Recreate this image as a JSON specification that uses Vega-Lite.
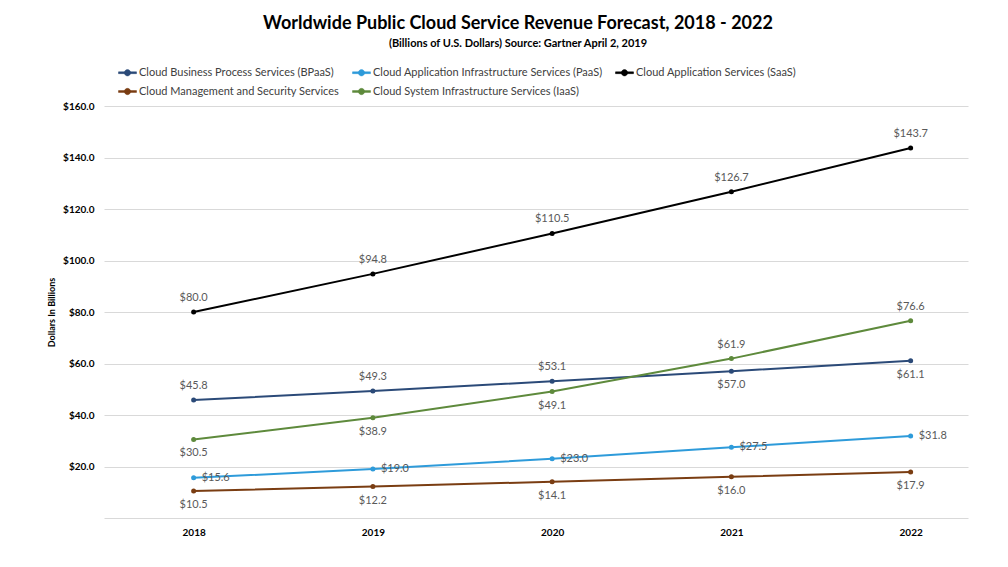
{
  "$schema": "https://vega.github.io/schema/vega-lite/v6.json",
  "width": 864,
  "height": 412,
  "autosize": {"type": "none"},
  "padding": {"left": 104, "top": 106, "right": 40, "bottom": 49},
  "background": "white",
  "title": {
    "text": "Worldwide Public Cloud Service Revenue Forecast, 2018 - 2022",
    "subtitle": "(Billions of U.S. Dollars) Source: Gartner April 2, 2019",
    "anchor": "middle",
    "font": "Lato",
    "fontSize": 18,
    "fontWeight": "bold",
    "color": "#000000",
    "subtitleFont": "Lato",
    "subtitleFontSize": 11,
    "subtitleFontWeight": "bold",
    "subtitleColor": "#000000",
    "subtitlePadding": 5,
    "dx": -18,
    "offset": 14
  },
  "config": {
    "view": {"stroke": null},
    "font": "Lato",
    "legend": {
      "orient": "none",
      "legendX": 14,
      "legendY": -43,
      "columns": 3,
      "direction": "horizontal",
      "gridAlign": "each",
      "columnPadding": 11,
      "rowPadding": 4,
      "title": null,
      "labelFont": "Lato",
      "labelFontSize": 11,
      "labelColor": "#404040",
      "labelOffset": 2,
      "labelLimit": 400,
      "symbolType": "M-1,-0.1L1,-0.1L1,0.1L-1,0.1Z M0.35,0A0.35,0.35,0,1,1,-0.35,0A0.35,0.35,0,1,1,0.35,0Z",
      "symbolSize": 324,
      "symbolStrokeWidth": 0.5
    }
  },
  "data": {
    "values": [
      {"series": "Cloud Business Process Services (BPaaS)", "year": 2018, "value": 45.8},
      {"series": "Cloud Business Process Services (BPaaS)", "year": 2019, "value": 49.3},
      {"series": "Cloud Business Process Services (BPaaS)", "year": 2020, "value": 53.1},
      {"series": "Cloud Business Process Services (BPaaS)", "year": 2021, "value": 57.0},
      {"series": "Cloud Business Process Services (BPaaS)", "year": 2022, "value": 61.1},
      {"series": "Cloud Application Infrastructure Services (PaaS)", "year": 2018, "value": 15.6},
      {"series": "Cloud Application Infrastructure Services (PaaS)", "year": 2019, "value": 19.0},
      {"series": "Cloud Application Infrastructure Services (PaaS)", "year": 2020, "value": 23.0},
      {"series": "Cloud Application Infrastructure Services (PaaS)", "year": 2021, "value": 27.5},
      {"series": "Cloud Application Infrastructure Services (PaaS)", "year": 2022, "value": 31.8},
      {"series": "Cloud Application Services (SaaS)", "year": 2018, "value": 80.0},
      {"series": "Cloud Application Services (SaaS)", "year": 2019, "value": 94.8},
      {"series": "Cloud Application Services (SaaS)", "year": 2020, "value": 110.5},
      {"series": "Cloud Application Services (SaaS)", "year": 2021, "value": 126.7},
      {"series": "Cloud Application Services (SaaS)", "year": 2022, "value": 143.7},
      {"series": "Cloud Management and Security Services", "year": 2018, "value": 10.5},
      {"series": "Cloud Management and Security Services", "year": 2019, "value": 12.2},
      {"series": "Cloud Management and Security Services", "year": 2020, "value": 14.1},
      {"series": "Cloud Management and Security Services", "year": 2021, "value": 16.0},
      {"series": "Cloud Management and Security Services", "year": 2022, "value": 17.9},
      {"series": "Cloud System Infrastructure Services (IaaS)", "year": 2018, "value": 30.5},
      {"series": "Cloud System Infrastructure Services (IaaS)", "year": 2019, "value": 38.9},
      {"series": "Cloud System Infrastructure Services (IaaS)", "year": 2020, "value": 49.1},
      {"series": "Cloud System Infrastructure Services (IaaS)", "year": 2021, "value": 61.9},
      {"series": "Cloud System Infrastructure Services (IaaS)", "year": 2022, "value": 76.6}
    ]
  },
  "encoding": {
    "x": {
      "field": "year",
      "type": "quantitative",
      "scale": {"domain": [2017.5, 2022.32], "nice": false, "zero": false},
      "axis": {
        "title": null,
        "values": [2018, 2019, 2020, 2021, 2022],
        "format": "d",
        "grid": false,
        "domain": false,
        "ticks": false,
        "labelFont": "Lato",
        "labelFontSize": 10,
        "labelFontWeight": "bold",
        "labelColor": "#000000",
        "labelPadding": 9
      }
    },
    "y": {
      "field": "value",
      "type": "quantitative",
      "scale": {"domain": [0, 160], "nice": false},
      "axis": {
        "title": "Dollars In Billions",
        "titleFont": "Lato",
        "titleFontSize": 9,
        "titleFontWeight": "bold",
        "titleColor": "#000000",
        "titlePadding": 6,
        "values": [0, 20, 40, 60, 80, 100, 120, 140, 160],
        "labelExpr": "datum.value == 0 ? '' : format(datum.value, '$.1f')",
        "domain": false,
        "ticks": false,
        "grid": true,
        "gridColor": "#D9D9D9",
        "gridWidth": 1,
        "labelFont": "Lato",
        "labelFontSize": 10,
        "labelFontWeight": "bold",
        "labelColor": "#000000",
        "labelPadding": 10
      }
    }
  },
  "layer": [
    {
      "mark": {"type": "line", "strokeWidth": 2},
      "encoding": {
        "color": {
          "field": "series",
          "type": "nominal",
          "sort": null,
          "scale": {
            "domain": [
              "Cloud Business Process Services (BPaaS)",
              "Cloud Application Infrastructure Services (PaaS)",
              "Cloud Application Services (SaaS)",
              "Cloud Management and Security Services",
              "Cloud System Infrastructure Services (IaaS)"
            ],
            "range": ["#2B4A78", "#2E9BDA", "#000000", "#7A3D12", "#5E8A3C"]
          }
        }
      }
    },
    {
      "mark": {"type": "point", "filled": true, "size": 25, "opacity": 1},
      "encoding": {
        "color": {"field": "series", "type": "nominal", "sort": null}
      }
    },
    {
      "transform": [
        {"filter": "datum.series == 'Cloud Application Services (SaaS)' || (datum.series == 'Cloud Business Process Services (BPaaS)' && datum.year <= 2020) || (datum.series == 'Cloud System Infrastructure Services (IaaS)' && datum.year >= 2021)"}
      ],
      "mark": {"type": "text", "dy": -14, "font": "Lato", "fontSize": 11, "color": "#595959"},
      "encoding": {"text": {"field": "value", "type": "quantitative", "format": "$.1f"}}
    },
    {
      "transform": [
        {"filter": "datum.series == 'Cloud Management and Security Services' || (datum.series == 'Cloud Business Process Services (BPaaS)' && datum.year >= 2021) || (datum.series == 'Cloud System Infrastructure Services (IaaS)' && datum.year <= 2020)"}
      ],
      "mark": {"type": "text", "dy": 14, "font": "Lato", "fontSize": 11, "color": "#595959"},
      "encoding": {"text": {"field": "value", "type": "quantitative", "format": "$.1f"}}
    },
    {
      "transform": [
        {"filter": "datum.series == 'Cloud Application Infrastructure Services (PaaS)'"}
      ],
      "mark": {"type": "text", "dx": 8, "align": "left", "font": "Lato", "fontSize": 11, "color": "#595959"},
      "encoding": {"text": {"field": "value", "type": "quantitative", "format": "$.1f"}}
    }
  ]
}
